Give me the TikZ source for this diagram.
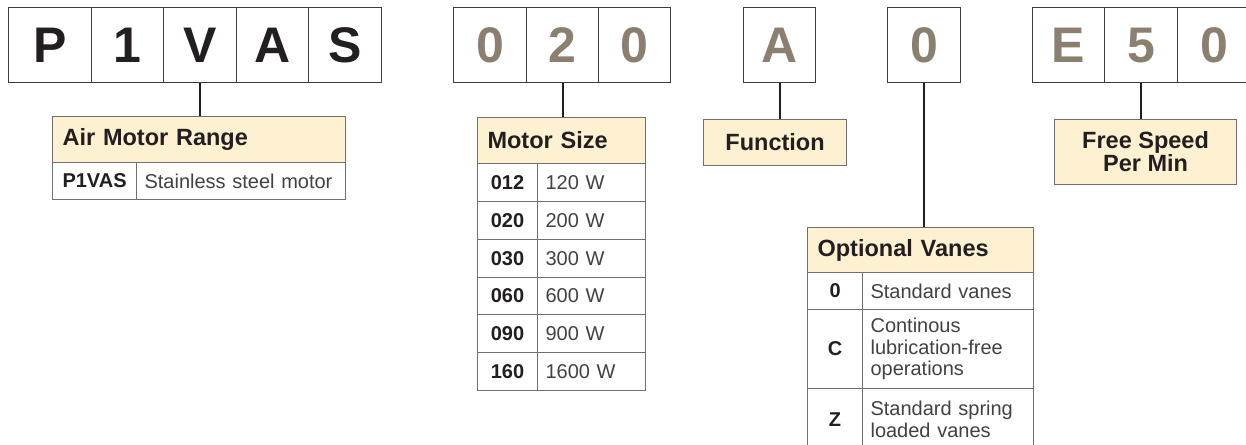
\documentclass[tikz,border=0pt]{standalone}
\usepackage{fontspec}
\setmainfont{Liberation Sans}
\definecolor{cream}{HTML}{FDF1D2}
\definecolor{ink}{HTML}{231F20}
\definecolor{taupe}{HTML}{8B8070}
\definecolor{bdark}{HTML}{3C3C3C}
\definecolor{bgray}{HTML}{707070}
\tikzset{
  tb/.style={draw=bdark, line width=1.1pt, anchor=north west, minimum height=75, inner sep=0,
     font=\bfseries\fontsize{50}{50}\selectfont},
  blk/.style={text=ink},
  gry/.style={text=taupe},
  hdr/.style={draw=bgray, line width=1.1pt, fill=cream, anchor=north west, inner xsep=10, inner ysep=0,
     align=left, text=ink, font=\bfseries\fontsize{23.5}{24}\selectfont},
  hdrc/.style={draw=bgray, line width=1.1pt, fill=cream, anchor=north west, inner sep=0,
     align=center, text=ink, font=\bfseries\fontsize{23.5}{21}\selectfont},
  code/.style={draw=bgray, line width=1.1pt, anchor=north west, inner sep=0, text=ink,
     font=\bfseries\fontsize{20}{21}\selectfont},
  val/.style={draw=bgray, line width=1.1pt, anchor=north west, inner xsep=8, inner ysep=0, align=left,
     text=ink!85, font=\fontsize{20}{21.5}\selectfont},
  conn/.style={draw=ink, line width=2pt}
}
\begin{document}
\begin{tikzpicture}[x=1pt,y=-1pt]
\clip (0,0) rectangle (1246,444);
\fill[white] (0,0) rectangle (1246,444);
% top boxes
\node[tb,blk,minimum width=83] (P)  at (8,7)   {P};
\node[tb,blk,minimum width=72] (n1) at (91,7)  {1};
\node[tb,blk,minimum width=73] (V)  at (163,7) {V};
\node[tb,blk,minimum width=72] (A)  at (236,7) {A};
\node[tb,blk,minimum width=73] (S)  at (308,7) {S};
\node[tb,gry,minimum width=73] (za) at (453,7) {0};
\node[tb,gry,minimum width=72] (tw) at (526,7) {2};
\node[tb,gry,minimum width=72] (zb) at (598,7) {0};
\node[tb,gry,minimum width=72] (fa) at (743,7) {A};
\node[tb,gry,minimum width=73] (zc) at (887,7) {0};
\node[tb,gry,minimum width=72] (E)  at (1032,7) {E};
\node[tb,gry,minimum width=73] (fv) at (1104,7) {5};
\node[tb,gry,minimum width=73] (zd) at (1177,7) {0};
% Air Motor Range
\node[hdr,text width=273,minimum height=46] (amr) at (52,116) {Air Motor Range};
\node[code,minimum width=84,minimum height=37] (amrc) at (52,162) {P1VAS};
\node[val,text width=193,minimum height=37] (amrv) at (136,162) {Stainless steel motor};
% Motor Size
\node[hdr,text width=148,minimum height=46] (ms) at (477,117) {Motor Size};
\node[code,minimum width=60,minimum height=38] (c1) at (477,163) {012};
\node[val,text width=92,minimum height=38] (v1) at (537,163) {120 W};
\node[code,minimum width=60,minimum height=38] (c2) at (477,201) {020};
\node[val,text width=92,minimum height=38] (v2) at (537,201) {200 W};
\node[code,minimum width=60,minimum height=38] (c3) at (477,239) {030};
\node[val,text width=92,minimum height=38] (v3) at (537,239) {300 W};
\node[code,minimum width=60,minimum height=37] (c4) at (477,277) {060};
\node[val,text width=92,minimum height=37] (v4) at (537,277) {600 W};
\node[code,minimum width=60,minimum height=38] (c5) at (477,314) {090};
\node[val,text width=92,minimum height=38] (v5) at (537,314) {900 W};
\node[code,minimum width=60,minimum height=38] (c6) at (477,352) {160};
\node[val,text width=92,minimum height=38] (v6) at (537,352) {1600 W};
% Function
\node[hdrc,minimum width=143,minimum height=46] (fn) at (703,119) {Function};
% Optional Vanes
\node[hdr,text width=206,minimum height=45] (ov) at (807,227) {Optional Vanes};
\node[code,minimum width=55,minimum height=37] (o1) at (807,272) {0};
\node[val,text width=155,minimum height=37] (w1) at (862,272) {Standard vanes};
\node[code,minimum width=55,minimum height=79] (o2) at (807,309) {C};
\node[val,text width=155,minimum height=79] (w2) at (862,309) {Continous\\lubrication-free\\operations};
\node[code,minimum width=55,minimum height=62] (o3) at (807,388) {Z};
\node[val,text width=155,minimum height=62] (w3) at (862,388) {Standard spring\\loaded vanes};
% Free Speed
\node[hdrc,minimum width=182,minimum height=65] (fs) at (1054,119) {Free Speed\\Per Min};
% connectors
\draw[conn] (V.south) -- (V.south |- amr.north);
\draw[conn] (tw.south) -- (tw.south |- ms.north);
\draw[conn] (fa.south) -- (fa.south |- fn.north);
\draw[conn] (zc.south) -- (zc.south |- ov.north);
\draw[conn] (fv.south) -- (fv.south |- fs.north);
\end{tikzpicture}
\end{document}
